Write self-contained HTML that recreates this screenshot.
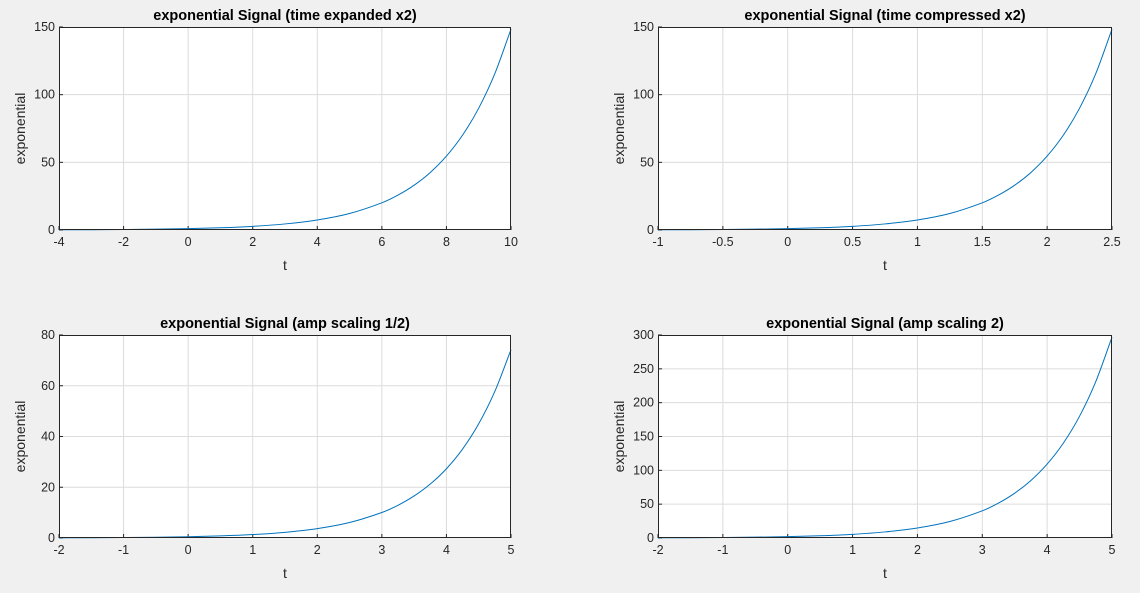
<!DOCTYPE html>
<html><head><meta charset="utf-8"><style>
html,body{margin:0;padding:0;background:#f0f0f0;}
svg{display:block;font-family:"Liberation Sans",Arial,sans-serif;}
</style></head><body>
<svg id="fig" width="1140" height="593"></svg>
<script>
// Plot 1: time expanded x2
const t1 = [-4,-3,-2,-1,0,1,2,3,4,5,6,6.5,7,7.5,8,8.5,9,9.5,10];
const y1 = [0.14,0.22,0.37,0.61,1,1.65,2.72,4.48,7.39,12.18,20.09,25.79,33.12,42.52,54.6,70.1,90.02,115.58,148.41];
const xt1 = [-4,-2,0,2,4,6,8,10];
const yt1 = [0,50,100,150];
// Plot 2: time compressed x2
const t2 = [-1,-0.75,-0.5,-0.25,0,0.25,0.5,0.75,1,1.25,1.5,1.625,1.75,1.875,2,2.125,2.25,2.375,2.5];
const y2 = [0.14,0.22,0.37,0.61,1,1.65,2.72,4.48,7.39,12.18,20.09,25.79,33.12,42.52,54.6,70.1,90.02,115.58,148.41];
const xt2 = [-1,-0.5,0,0.5,1,1.5,2,2.5];
const yt2 = [0,50,100,150];
// Plot 3: amp scaling 1/2
const t3 = [-2,-1.5,-1,-0.5,0,0.5,1,1.5,2,2.5,3,3.25,3.5,3.75,4,4.25,4.5,4.75,5];
const y3 = [0.07,0.11,0.18,0.30,0.5,0.82,1.36,2.24,3.69,6.09,10.04,12.89,16.56,21.26,27.3,35.05,45.01,57.79,74.21];
const xt3 = [-2,-1,0,1,2,3,4,5];
const yt3 = [0,20,40,60,80];
// Plot 4: amp scaling 2
const t4 = [-2,-1.5,-1,-0.5,0,0.5,1,1.5,2,2.5,3,3.25,3.5,3.75,4,4.25,4.5,4.75,5];
const y4 = [0.27,0.45,0.74,1.21,2,3.3,5.44,8.96,14.78,24.36,40.17,51.58,66.23,85.04,109.2,140.2,180.03,231.2,296.83];
const xt4 = [-2,-1,0,1,2,3,4,5];
const yt4 = [0,50,100,150,200,250,300];

const NS="http://www.w3.org/2000/svg";
const svg=document.getElementById('fig');
function el(tag,attrs,parent){const e=document.createElementNS(NS,tag);for(const k in attrs)e.setAttribute(k,attrs[k]);(parent||svg).appendChild(e);return e;}

function plot(cfg){
  const {L,R,T,B,xs,ys,xt,yt,title,name}=cfg;
  const g=el('g',{});
  
  
  const x0=xt[0],x1=xt[xt.length-1],y0=yt[0],y1=yt[yt.length-1];
  const sx=v=>L+(v-x0)/(x1-x0)*(R-L);
  const sy=v=>B-(v-y0)/(y1-y0)*(B-T);
  const bg=el('rect',{x:L,y:T,width:R-L,height:B-T,fill:'#fff'},g);
  
  
  xt.forEach(v=>{
    const X=sx(v);
    if(v!==x0&&v!==x1){const l=el('line',{x1:X,y1:T,x2:X,y2:B,stroke:'#dcdcdc','stroke-width':1},g);
      }
    el('line',{x1:X,y1:B,x2:X,y2:B-4,stroke:'#262626'},g);
    const tx=el('text',{x:X,y:B+16,'text-anchor':'middle','font-size':12.5,fill:'#262626'},g);
    tx.textContent=String(v);
    
  });
  yt.forEach(v=>{
    const Y=sy(v);
    if(v!==y0&&v!==y1){const l=el('line',{x1:L,y1:Y,x2:R,y2:Y,stroke:'#dcdcdc','stroke-width':1},g);
      }
    el('line',{x1:L,y1:Y,x2:L+4,y2:Y,stroke:'#262626'},g);
    const tx=el('text',{x:L-4,y:Y+4,'text-anchor':'end','font-size':12.5,fill:'#262626'},g);
    tx.textContent=String(v);
    
  });
  const n=xs.length;
  const m=xs.map((x,i)=>{
    const a=Math.max(0,i-1),b=Math.min(n-1,i+1);
    return (ys[b]-ys[a])/(xs[b]-xs[a]);
  });
  let d='M'+sx(xs[0])+','+sy(ys[0]);
  for(let i=0;i<n-1;i++){
    const h=xs[i+1]-xs[i];
    const c1x=xs[i]+h/3,c1y=ys[i]+m[i]*h/3;
    const c2x=xs[i+1]-h/3,c2y=ys[i+1]-m[i+1]*h/3;
    d+=' C'+sx(c1x)+','+sy(c1y)+' '+sx(c2x)+','+sy(c2y)+' '+sx(xs[i+1])+','+sy(ys[i+1]);
  }
  const line=el('path',{d:d,fill:'none',stroke:'#0072bd','stroke-width':1},g);
  
  
  const box=el('rect',{x:L+0.5,y:T+0.5,width:R-L-1,height:B-T-1,fill:'none',stroke:'#262626','stroke-width':1},g);
  
  const ti=el('text',{x:(L+R)/2,y:T-7,'text-anchor':'middle','font-size':14.5,'font-weight':'bold',fill:'#000'},g);
  ti.textContent=title;
  
  const xl=el('text',{x:(L+R)/2,y:B+40,'text-anchor':'middle','font-size':14,fill:'#262626'},g);
  xl.textContent='t';
  
  const yx=L-34,yy=(T+B)/2;
  const yl=el('text',{x:yx,y:yy,'text-anchor':'middle','font-size':14,fill:'#262626',transform:`rotate(-90 ${yx} ${yy})`},g);
  yl.textContent='exponential';
  
}
plot({L:59,R:511,T:27,B:230,xs:t1,ys:y1,xt:xt1,yt:yt1,title:'exponential Signal (time expanded x2)',name:'subplot-time-expanded'});
plot({L:658,R:1112,T:27,B:230,xs:t2,ys:y2,xt:xt2,yt:yt2,title:'exponential Signal (time compressed x2)',name:'subplot-time-compressed'});
plot({L:59,R:511,T:335,B:538,xs:t3,ys:y3,xt:xt3,yt:yt3,title:'exponential Signal (amp scaling 1/2)',name:'subplot-amp-half'});
plot({L:658,R:1112,T:335,B:538,xs:t4,ys:y4,xt:xt4,yt:yt4,title:'exponential Signal (amp scaling 2)',name:'subplot-amp-double'});
</script>
</body></html>
